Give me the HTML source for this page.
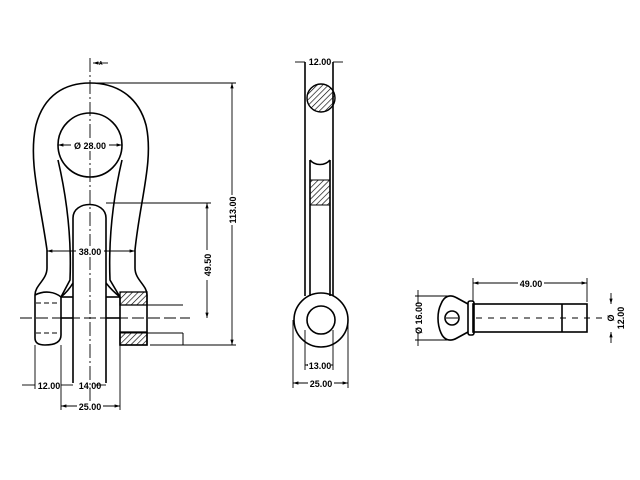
<!DOCTYPE html>
<html><head><style>body{margin:0;background:#fff}svg{display:block}</style></head><body>
<svg width="640" height="480" viewBox="0 0 640 480" xmlns="http://www.w3.org/2000/svg" font-family="Liberation Sans, sans-serif" font-size="9" font-weight="bold">
<defs>
<pattern id="h" width="4" height="4" patternUnits="userSpaceOnUse" patternTransform="rotate(45)"><line x1="0" y1="0" x2="0" y2="4" stroke="#000" stroke-width="1.3"/></pattern>
<marker id="a" viewBox="0 0 10 10" refX="10" refY="5" markerWidth="6" markerHeight="6" orient="auto-start-reverse"><path d="M0,2 L10,5 L0,8z" fill="#000"/></marker>
</defs>
<g fill="none" stroke="#000" stroke-width="1.6">
<!-- left view outer -->
<path d="M47,250 C40,200 28,160 36,125 C44,95 65,83 90,83 C115,83 138,95 146,125 C154,160 140,200 135,250 L135,268 C135,280 147,285 147,295 L147,345 L120,345 L120,297 C115,293 110,288 106,283"/>
<path d="M47,250 L47,268 C47,280 35,285 35,295 L35,338 C35,344 40,345 45,345 C55,345 61,342 61,335 L61,297 C66,293 70,288 73,283"/>
<circle cx="90" cy="145" r="32"/>
<path d="M58,160 C65,190 72,230 70,280 L61,297"/>
<path d="M122,160 C115,190 108,230 110,280 L120,297"/>
<path d="M73,383 L73,218 C73,200 106,200 106,218 L106,383"/>
<path d="M35,295 C45,290 55,292 61,297"/>
<line x1="61" y1="297" x2="73" y2="297"/><line x1="106" y1="297" x2="120" y2="297"/>
<line x1="61" y1="318" x2="73" y2="318"/><line x1="106" y1="318" x2="120" y2="318"/>
<line x1="120" y1="305" x2="183" y2="305" stroke-width="1"/>
<line x1="120" y1="333" x2="183" y2="333" stroke-width="1"/>
<line x1="183" y1="333" x2="183" y2="345" stroke-width="1"/>
</g>
<rect x="120" y="292" width="27" height="13" fill="url(#h)" stroke="#000" stroke-width="1.3"/>
<rect x="120" y="332" width="27" height="13" fill="url(#h)" stroke="#000" stroke-width="1.3"/>
<g stroke="#000" stroke-width="0.9" fill="none">
<line x1="90" y1="58" x2="90" y2="410" stroke-dasharray="14,3,2,3"/>
<line x1="20" y1="318" x2="190" y2="318" stroke-dasharray="12,4"/>
<line x1="36" y1="303" x2="60" y2="303" stroke-dasharray="5,3"/>
<line x1="36" y1="333" x2="60" y2="333" stroke-dasharray="5,3"/>
<line x1="108" y1="63" x2="93" y2="63" marker-end="url(#a)"/>
<line x1="92" y1="83" x2="236" y2="83"/><line x1="150" y1="345" x2="236" y2="345"/>
<line x1="232" y1="83" x2="232" y2="345" marker-start="url(#a)" marker-end="url(#a)"/>
<line x1="106" y1="203" x2="211" y2="203"/>
<line x1="207" y1="203" x2="207" y2="318" marker-start="url(#a)" marker-end="url(#a)"/>
<line x1="47" y1="251" x2="135" y2="251" marker-start="url(#a)" marker-end="url(#a)"/>
<line x1="35" y1="345" x2="35" y2="389"/><line x1="61" y1="345" x2="61" y2="410"/><line x1="120" y1="345" x2="120" y2="410"/>
<line x1="22" y1="385" x2="35" y2="385"/><line x1="61" y1="385" x2="73" y2="385"/><line x1="96" y1="385" x2="106" y2="385"/>
<line x1="61" y1="406" x2="120" y2="406" marker-start="url(#a)" marker-end="url(#a)"/>
<line x1="58" y1="145" x2="122" y2="145" marker-start="url(#a)" marker-end="url(#a)"/>
</g>
<g fill="#000">
<rect x="71" y="140" width="38" height="11" fill="#fff"/><text x="90" y="149" text-anchor="middle">Ø 28.00</text>
<rect x="76" y="246" width="28" height="11" fill="#fff"/><text x="90" y="255" text-anchor="middle">38.00</text>
<text x="49" y="389" text-anchor="middle">12.00</text>
<text x="90" y="389" text-anchor="middle">14.00</text>
<rect x="77" y="401" width="26" height="11" fill="#fff"/><text x="90" y="410" text-anchor="middle">25.00</text>
<text x="99" y="65" font-size="5">A</text>
<rect x="226" y="195" width="12" height="30" fill="#fff"/><text transform="translate(236,210) rotate(-90)" text-anchor="middle">113.00</text>
<rect x="201" y="250" width="12" height="30" fill="#fff"/><text transform="translate(211,265) rotate(-90)" text-anchor="middle">49.50</text>
</g>
<!-- middle view -->
<g fill="none" stroke="#000" stroke-width="1.6">
<path d="M305,62 L305,296"/><path d="M333,62 L333,296"/>
<path d="M310,160 L310,296 M330,160 L330,296 M310,160 C315,166 325,166 330,160"/>
<circle cx="321" cy="320" r="27"/>
<circle cx="321" cy="320" r="14"/>
</g>
<circle cx="321" cy="98" r="14" fill="url(#h)" stroke="#000" stroke-width="1.4"/>
<rect x="310" y="180" width="20" height="25" fill="url(#h)" stroke="#000" stroke-width="1"/>
<g stroke="#000" stroke-width="0.9" fill="none">
<line x1="295" y1="62" x2="305" y2="62"/><line x1="333" y1="62" x2="343" y2="62"/>
<line x1="305" y1="330" x2="305" y2="370"/><line x1="333" y1="330" x2="333" y2="370"/>
<line x1="293" y1="320" x2="293" y2="388"/><line x1="348" y1="320" x2="348" y2="388"/>
<line x1="305" y1="365" x2="333" y2="365" marker-start="url(#a)" marker-end="url(#a)"/>
<line x1="293" y1="383" x2="348" y2="383" marker-start="url(#a)" marker-end="url(#a)"/>
</g>
<g fill="#000">
<rect x="308" y="57" width="23" height="11" fill="#fff"/><text x="320" y="65" text-anchor="middle">12.00</text>
<rect x="308" y="360" width="23" height="11" fill="#fff"/><text x="320" y="369" text-anchor="middle">13.00</text>
<rect x="308" y="378" width="26" height="11" fill="#fff"/><text x="321" y="387" text-anchor="middle">25.00</text>
</g>
<!-- right view -->
<g fill="none" stroke="#000" stroke-width="1.6">
<rect x="473" y="304" width="114" height="28"/>
<line x1="562" y1="304" x2="562" y2="332"/>
<rect x="468" y="301" width="6" height="34" rx="2"/>
<path d="M468,304 L457,298 C450,294 444,296 441,304 C437,312 437,324 441,333 C444,340 450,342 457,338 L468,332"/>
<circle cx="452" cy="318" r="7"/>
<line x1="446" y1="318" x2="458" y2="318" stroke-width="1"/>
</g>
<g stroke="#000" stroke-width="0.9" fill="none">
<line x1="476" y1="318" x2="606" y2="318" stroke-dasharray="6,6"/>
<line x1="473" y1="278" x2="473" y2="302"/><line x1="587" y1="278" x2="587" y2="302"/>
<line x1="473" y1="283" x2="587" y2="283" marker-start="url(#a)" marker-end="url(#a)"/>
<line x1="415" y1="296" x2="450" y2="296"/><line x1="415" y1="340" x2="450" y2="340"/>
<line x1="418" y1="290" x2="418" y2="296"/><line x1="418" y1="340" x2="418" y2="346"/>
<line x1="418" y1="296" x2="418" y2="304"/><line x1="418" y1="332" x2="418" y2="340"/>
<line x1="611" y1="293" x2="611" y2="304" marker-end="url(#a)"/>
<line x1="611" y1="343" x2="611" y2="332" marker-end="url(#a)"/>
</g>
<g fill="#000">
<rect x="518" y="278" width="26" height="11" fill="#fff"/><text x="531" y="287" text-anchor="middle">49.00</text>
<text transform="translate(422,318) rotate(-90)" text-anchor="middle">Ø 16.00</text>
<text transform="translate(614,318) rotate(-90)" text-anchor="middle">Ø</text>
<text transform="translate(624,318) rotate(-90)" text-anchor="middle">12.00</text>
</g>
</svg>
</body></html>
